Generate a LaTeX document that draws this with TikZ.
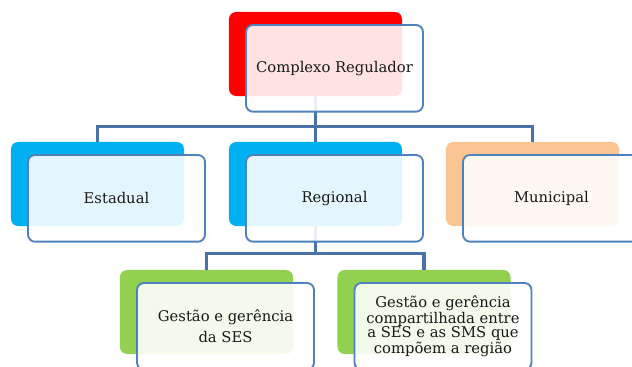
\documentclass[tikz,border=0pt]{standalone}
\usepackage{fontspec}
\setmainfont{DejaVu Serif}
\usetikzlibrary{positioning}
\definecolor{regred}{HTML}{FF0000}
\definecolor{regblue}{HTML}{00B0F0}
\definecolor{regorange}{HTML}{FAC593}
\definecolor{reggreen}{HTML}{92D050}
\definecolor{boxline}{HTML}{4F81BD}
\definecolor{linkblue}{HTML}{4A72A8}

\begin{document}
\begin{tikzpicture}[x=0.03cm, y=-0.03cm, align=center, font=\fontsize{12.6}{12.3}\selectfont,
	bgnode/.style={rectangle,rounded corners=6pt,minimum width=5.19cm,minimum height=2.52cm,inner sep=0pt},
	fgnode/.style={rectangle,rounded corners=6pt,draw=boxline,line width=1.6pt,fill=white,fill opacity=0.89,text opacity=1,text=black!90,minimum width=5.31cm,minimum height=2.6cm,inner sep=2pt,xshift=0.57cm,yshift=-0.43cm},
	link/.style={draw=linkblue,line width=2.6pt}]
		\clip (0,0) rectangle (632,367);
		\node[bgnode,fill=regred] (reguladorbg) at (315.5,54) {};
		\node[bgnode,fill=regblue] (estadualbg) at (97.5,184) {};
		\node[bgnode,fill=regblue] (regionalbg) at (315.5,184) {};
		\node[bgnode,fill=regorange] (municipalbg) at (532.5,184) {};
		\node[bgnode,fill=reggreen] (sesbg) at (206.5,312) {};
		\node[bgnode,fill=reggreen] (compbg) at (424,312) {};
		\draw[link] (reguladorbg.south) -- ++(0,30) -| (estadualbg.north);
		\draw[link] (reguladorbg.south) -- (regionalbg.north);
		\draw[link] (reguladorbg.south) -- ++(0,30) -| (municipalbg.north);
		\draw[link] (regionalbg.south) -- ++(0,27) -| (sesbg.north);
		\draw[link] (regionalbg.south) -- ++(0,27) -| (compbg.north);
		\node[fgnode] (regulador) at (reguladorbg) {Complexo Regulador};
		\node[fgnode] (estadual) at (estadualbg) {Estadual};
		\node[fgnode] (regional) at (regionalbg) {Regional};
		\node[fgnode] (municipal) at (municipalbg) {Municipal};
		\node[fgnode] (ses) at (sesbg) {Gestão e gerência\\[0.17cm]da SES};
		\node[fgnode] (comp) at (compbg) {Gestão e gerência\\compartilhada entre\\a SES e as SMS que\\compõem a região};
	\end{tikzpicture}
\end{document}
